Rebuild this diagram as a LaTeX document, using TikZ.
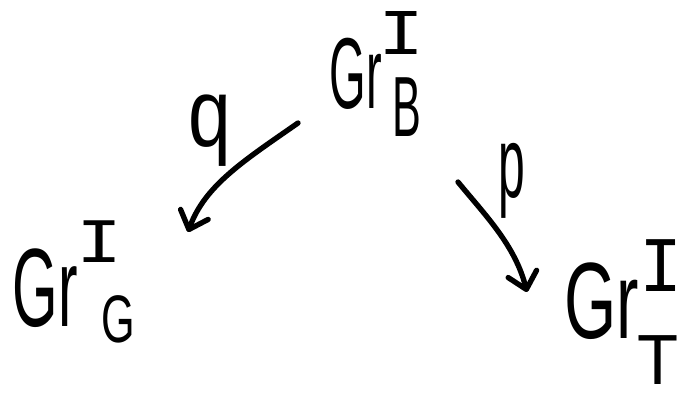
\documentclass[tikz,border=0pt]{standalone}
\usepackage{graphicx}
\usepackage{fontspec}
\setmainfont{Liberation Sans}
\newfontfamily\monofnt{Liberation Mono}
\usetikzlibrary{arrows.meta}
\newcommand{\hwtext}[3]{\scalebox{#1}[#2]{#3}}
\begin{document}
\begin{tikzpicture}[x=0.75pt,y=-0.75pt,
  hw/.style={inner sep=0pt,outer sep=0pt,font=\fontsize{72}{72}\selectfont},
  hwm/.style={inner sep=0pt,outer sep=0pt,font=\fontsize{72}{72}\selectfont\monofnt},
  arr/.style={line width=4pt,line cap=round,line join=round,
    -{Straight Barb[length=12pt,width=22pt,line width=4pt,round]}}]
\useasboundingbox (0,0) rectangle (682,399);
% top object
\node[hw]  (B)   at (356,74)  {\hwtext{0.49}{1.05}{Gr}};
\node[hwm] (Bsup) at (402,33) {\hwtext{0.8}{0.68}{I}};
\node[hw]  (Bsub) at (407,107) {\hwtext{0.45}{0.89}{B}};
% left object
\node[hw]  (G)   at (45,288)  {\hwtext{0.61}{1.16}{Gr}};
\node[hwm] (Gsup) at (100,242) {\hwtext{0.8}{0.66}{I}};
\node[hw]  (Gsub) at (118,319) {\hwtext{0.45}{0.7}{G}};
% right object
\node[hw]  (T)   at (602,301) {\hwtext{0.70}{1.13}{Gr}};
\node[hwm] (Tsup) at (661,266) {\hwtext{0.75}{0.82}{I}};
\node[hw]  (Tsub) at (658,360) {\hwtext{0.7}{0.74}{T}};
% arrows
\coordinate (qs) at (298,123);
\coordinate (qe) at (188,232);
\coordinate (ps) at (458,182);
\coordinate (pe) at (527,292);
\draw[arr] (qs) .. controls (245,160) and (205,185) .. (qe);
\draw[arr] (ps) .. controls (485,215) and (515,245) .. (pe);
\node[hw] (q) at (210,131) {\hwtext{0.8}{1.0}{q}};
\node[hw] (p) at (512,181) {\hwtext{0.5}{1.05}{p}};
\end{tikzpicture}
\end{document}
